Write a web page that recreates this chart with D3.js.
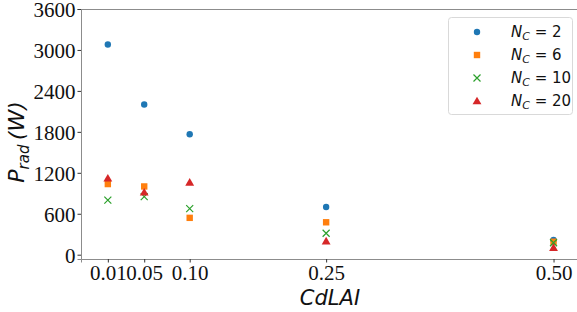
<!DOCTYPE html>
<html>
<head>
<meta charset="utf-8">
<script src="https://cdn.jsdelivr.net/npm/d3@7"></script>
<style>
  body { margin: 0; background: #fff; }
  .tick text { font-family: "Liberation Serif", "Times New Roman", serif; font-size: 21px; fill: #111; }
  .math { font-family: "DejaVu Sans", sans-serif; fill: #111; }
</style>
</head>
<body>
<svg id="chart" width="577" height="312"></svg>
<script>
const cdlai = [0.01, 0.05, 0.10, 0.25, 0.50];
const nc2 = [3080, 2200, 1765, 700, 215];
const nc6 = [1035, 1000, 540, 475, 190];
const nc10 = [800, 850, 675, 315, 175];
const nc20 = [1120, 915, 1060, 200, 105];
const yTicks = [0, 600, 1200, 1800, 2400, 3000, 3600];
const xTickLabels = ["0.01", "0.05", "0.10", "0.25", "0.50"];

const series = [
  { n: "2", values: nc2, color: "#1f77b4", shape: "circle" },
  { n: "6", values: nc6, color: "#ff7f0e", shape: "square" },
  { n: "10", values: nc10, color: "#2ca02c", shape: "x" },
  { n: "20", values: nc20, color: "#d62728", shape: "triangle" },
];

const svg = d3.select("#chart");
const margin = { left: 81, top: 9, right: 579, bottom: 259 };

const x = d3.scaleLinear().domain([-0.0195, 0.528]).range([margin.left, margin.right]);
const y = d3.scaleLinear().domain([-63, 3600]).range([margin.bottom, margin.top]);

// spines
const spine = "#8c8c8c";
svg.append("line").attr("x1", margin.left).attr("x2", margin.right)
  .attr("y1", margin.top + 0.5).attr("y2", margin.top + 0.5).attr("stroke", spine);
svg.append("line").attr("x1", margin.right).attr("x2", margin.right)
  .attr("y1", margin.top).attr("y2", margin.bottom).attr("stroke", spine);

const xAxis = svg.append("g")
  .attr("transform", `translate(0,${margin.bottom})`)
  .call(d3.axisBottom(x).tickValues(cdlai).tickFormat((d, i) => xTickLabels[i]).tickSize(3.5).tickPadding(3));
xAxis.select(".domain").attr("stroke", spine);
xAxis.selectAll(".tick line").attr("stroke", "#333");

const yAxis = svg.append("g")
  .attr("transform", `translate(${margin.left},0)`)
  .call(d3.axisLeft(y).tickValues(yTicks).tickFormat(d3.format("d")).tickSize(3.5).tickPadding(2));
yAxis.select(".domain").attr("stroke", spine);
yAxis.selectAll(".tick line").attr("stroke", "#333");
yAxis.selectAll(".tick text").attr("dy", "0.36em");

// markers
const triangle = d3.symbol().type(d3.symbolTriangle).size(34);
function drawMarker(g, shape, color) {
  if (shape === "circle") {
    g.append("circle").attr("r", 3.2).attr("fill", color);
  } else if (shape === "square") {
    g.append("rect").attr("x", -3.2).attr("y", -3.2).attr("width", 6.4).attr("height", 6.4).attr("fill", color);
  } else if (shape === "x") {
    g.append("path").attr("d", "M-3.5,-3.5L3.5,3.5M-3.5,3.5L3.5,-3.5")
      .attr("stroke", color).attr("stroke-width", 1.2).attr("fill", "none");
  } else {
    g.append("path").attr("d", triangle()).attr("fill", color).attr("transform", "translate(0,0.8)");
  }
}

series.forEach((s) => {
  svg.append("g").selectAll("g")
    .data(s.values.map((v, i) => ({ x: cdlai[i], y: v })))
    .join("g")
    .attr("transform", (d) => `translate(${x(d.x)},${y(d.y)})`)
    .each(function () { drawMarker(d3.select(this), s.shape, s.color); });
});

// axis labels
const yl = svg.append("text").attr("class", "math")
  .attr("transform", "translate(24,142) rotate(-90)")
  .attr("text-anchor", "middle").attr("font-size", 22).attr("font-style", "italic");
yl.append("tspan").text("P");
yl.append("tspan").attr("font-size", 15).attr("dy", 5).text("rad");
yl.append("tspan").attr("dy", -5).text("\u2009(W)");

svg.append("text").attr("class", "math")
  .attr("x", 330).attr("y", 305)
  .attr("text-anchor", "middle").attr("font-size", 21).attr("font-style", "italic")
  .text("CdLAI");

// legend
const legend = svg.append("g");
legend.append("rect").attr("x", 448.5).attr("y", 17.5).attr("width", 124).attr("height", 97)
  .attr("rx", 3).attr("fill", "#fff").attr("stroke", "#d9d9d9");
series.forEach((s, i) => {
  const ly = 32 + i * 23;
  const g = legend.append("g").attr("transform", `translate(477,${ly})`);
  drawMarker(g, s.shape, s.color);
  const t = legend.append("text").attr("class", "math").attr("x", 511).attr("y", ly + 5).attr("font-size", 15);
  t.append("tspan").attr("font-style", "italic").text("N");
  t.append("tspan").attr("font-style", "italic").attr("font-size", 11).attr("dy", 3).text("C");
  t.append("tspan").attr("dy", -3).text(" = " + s.n);
});
</script>
</body>
</html>
